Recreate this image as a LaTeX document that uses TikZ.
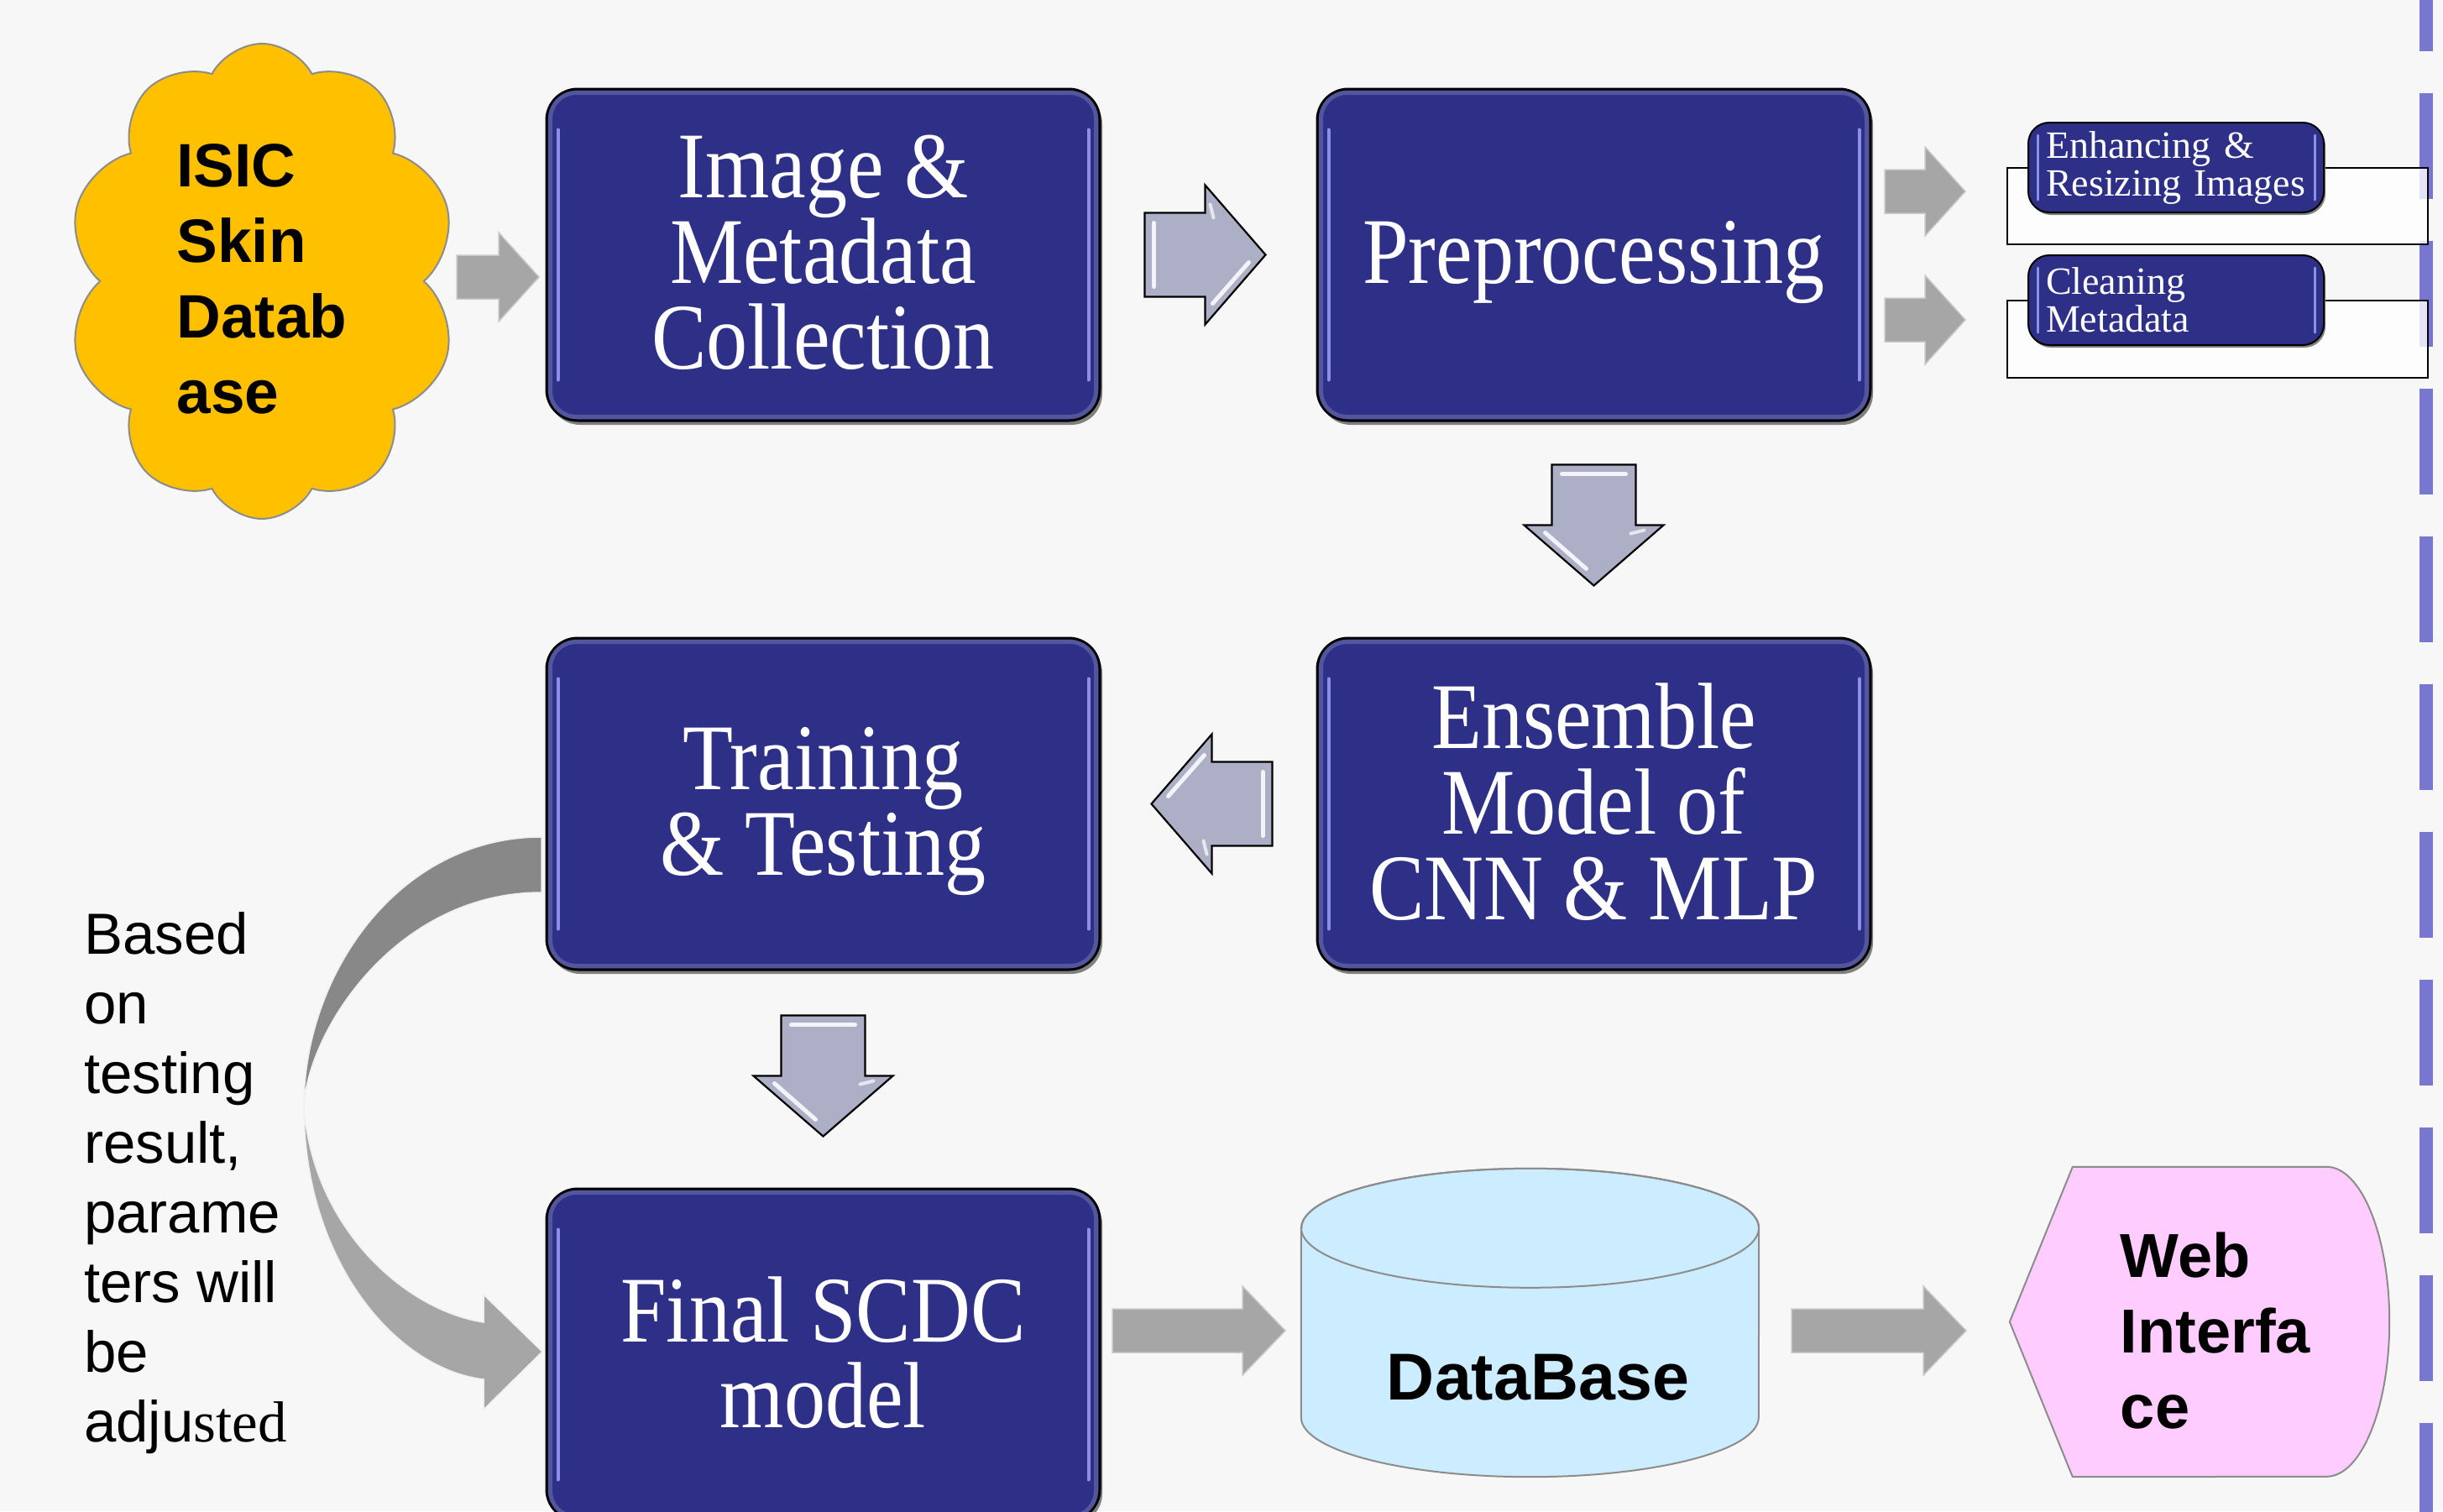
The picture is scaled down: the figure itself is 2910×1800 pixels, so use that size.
\documentclass[tikz,border=0pt]{standalone}
\usepackage{fontspec}
\setmainfont{Liberation Serif}
\setsansfont{Liberation Sans}
\newfontfamily\stepfont[FakeStretch=0.876]{Liberation Serif}
\usetikzlibrary{calc,shapes.symbols}

\definecolor{pagebg}{HTML}{F7F7F7}
\definecolor{stepblue}{HTML}{2E3088}
\definecolor{stepglow}{HTML}{8B8FE6}
\definecolor{chevfill}{HTML}{ADAFC6}
\definecolor{flatgray}{HTML}{A6A6A6}
\definecolor{flatedge}{HTML}{C8C8C8}
\definecolor{loopdark}{HTML}{888888}
\definecolor{cloudfill}{HTML}{FFC000}
\definecolor{dbfill}{HTML}{CCECFF}
\definecolor{webfill}{HTML}{FFCCFF}
\definecolor{shapeedge}{HTML}{8C8C8C}
\definecolor{dashblue}{HTML}{7777D0}

\tikzset{
  stepbox/.style={draw=black, line width=3pt, fill=stepblue, rounded corners=37pt,
    minimum width=659pt, minimum height=395pt, inner sep=0pt, text=white,
    align=center, text depth=6pt,
    font=\stepfont\fontsize{112pt}{102pt}\selectfont,
    preaction={fill=black!50, transform canvas={shift={(3pt,-5pt)}}}},
  minibox/.style={draw=black, line width=2pt, fill=stepblue, rounded corners=25pt,
    minimum width=352pt, minimum height=107pt, text width=310pt,
    inner xsep=21pt, inner ysep=0pt, align=left, text=white,
    font=\rmfamily\fontsize{46pt}{45pt}\selectfont,
    preaction={fill=black!50, transform canvas={shift={(2pt,-3pt)}}}},
  flatarrow/.style={fill=flatgray, draw=flatedge, line width=1.5pt},
  panel/.style={fill=white, fill opacity=0.8, draw=black, line width=2pt},
  chevron/.pic={
    \filldraw[fill=chevfill, draw=black, line width=2.2pt, line join=miter]
      (-72,-50) -- (0,-50) -- (0,-83) -- (72,0) -- (0,83) -- (0,50) -- (-72,50) -- cycle;
    \draw[white, line width=5pt, line cap=round, opacity=.85] (-61,-38) -- (-61,38);
    \draw[white, line width=5pt, line cap=round, opacity=.85] (9,58) -- (52,9);
    \draw[white, line width=4pt, line cap=round, opacity=.7] (6,-60) -- (10,-44);
  }
}

% horizontal flat arrow: tail, tip, head length
\newcommand\flatarrow[3]{%
  \filldraw[flatarrow] ($#1+(0,-26)$) -- ($#2+(-#3,-26)$) -- ($#2+(-#3,-53)$) -- #2
    -- ($#2+(-#3,53)$) -- ($#2+(-#3,26)$) -- ($#1+(0,26)$) -- cycle;}

\begin{document}
\begin{tikzpicture}[x=1pt, y=-1pt]
\useasboundingbox (0,0) rectangle (2910,1800);
\fill[pagebg] (0,0) rectangle (2910,1800);

% dashed guide along the right margin
\draw[dashblue, line width=16pt, dash pattern=on 126pt off 50pt] (2890,-65) -- (2890,1900);

% data source cloud
\node[cloud, cloud puffs=10, cloud puff arc=125, cloud ignores aspect,
      minimum width=464pt, minimum height=566pt, draw=shapeedge, line width=2pt,
      fill=cloudfill] (cloud) at (312,335) {};
\node[inner sep=0pt, align=left, font=\sffamily\bfseries\fontsize{73pt}{90pt}\selectfont]
  (cloudtext) at (312,332) {ISIC\\Skin\\Datab\\ase};

% main pipeline steps
\node[stepbox] (collect) at (980.5,303.5) {Image \&\\Metadata\\Collection};
\node[stepbox] (prep) at (1898.5,303.5) {Preprocessing};
\node[stepbox] (ensemble) at (1898.5,957.5) {Ensemble\\Model of\\CNN \& MLP};
\node[stepbox] (train) at (980.5,957.5) {Training\\\& Testing};
\node[stepbox] (final) at (980.5,1613.5) {Final SCDC\\model};

\foreach \b in {collect,prep,ensemble,train,final}{
  \draw[stepblue!70!white, line width=5pt, rounded corners=31pt, opacity=.6]
    ($(\b.north west)+(6,6)$) rectangle ($(\b.south east)+(-6,-6)$);
  \draw[stepglow, line width=4pt, line cap=round]
    ($(\b.north west)+(15,50)$) -- ($(\b.south west)+(15,-50)$);
  \draw[stepglow, line width=4pt, line cap=round]
    ($(\b.north east)+(-15,50)$) -- ($(\b.south east)+(-15,-50)$);
}

% preprocessing sub-steps
\draw[panel] (2391,199.5) rectangle (2892,290.5);
\draw[panel] (2391,357.5) rectangle (2892,449.5);
\node[minibox] (enhance) at (2592,199.5) {Enhancing \&\\Resizing Images};
\node[minibox] (clean) at (2592,357.5) {Cleaning\\Metadata};
\foreach \b in {enhance,clean}{
  \draw[stepglow, line width=3pt, line cap=round]
    ($(\b.north west)+(12,16)$) -- ($(\b.south west)+(12,-16)$);
  \draw[stepglow, line width=3pt, line cap=round]
    ($(\b.north east)+(-12,16)$) -- ($(\b.south east)+(-12,-16)$);
}

% block arrows between the steps
\pic at ($(collect.east)!0.5!(prep.west)+(-4,0)$) {chevron};
\pic[rotate=-90] at ($(prep.south)!0.5!(ensemble.north)+(0,-5)$) {chevron};
\pic[rotate=180] at ($(ensemble.west)!0.5!(train.east)+(4,0)$) {chevron};
\pic[rotate=-90] at ($(train.south)!0.5!(final.north)+(0,-4)$) {chevron};

% flat arrows
\coordinate (cloudout) at (544,330);
\coordinate (collectin) at (642,330);
\flatarrow{(cloudout)}{(collectin)}{48}
\coordinate (prepout1) at (2245,228);
\coordinate (enhancein) at (2341,228);
\flatarrow{(prepout1)}{(enhancein)}{48}
\coordinate (prepout2) at (2245,381);
\coordinate (cleanin) at (2341,381);
\flatarrow{(prepout2)}{(cleanin)}{48}
\coordinate (finalout) at (1325,1585);
\coordinate (dbin) at (1531,1585);
\flatarrow{(finalout)}{(dbin)}{51}
\coordinate (dbout) at (2134,1585);
\coordinate (webin) at (2342,1585);
\flatarrow{(dbout)}{(webin)}{51}

% database cylinder
\node[minimum width=545pt, minimum height=367pt, inner sep=0pt] (db) at (1822.5,1575.5) {};
\filldraw[fill=dbfill, draw=shapeedge, line width=2pt]
  ($(db.north west)+(0,71)$) -- ($(db.south west)+(0,-71)$)
  arc[start angle=180, end angle=0, x radius=272.5, y radius=71]
  -- ($(db.north east)+(0,71)$)
  arc[start angle=0, end angle=-180, x radius=272.5, y radius=71] -- cycle;
\draw[shapeedge, line width=2pt] ($(db.north)+(0,71)$) ellipse [x radius=272.5, y radius=71];
\node[inner sep=0pt, font=\sffamily\bfseries\fontsize{79pt}{90pt}\selectfont]
  (dbtext) at (1832,1641) {DataBase};

% web interface display shape
\node[minimum width=452pt, minimum height=369pt, inner sep=0pt] (web) at (2620,1574.5) {};
\filldraw[fill=webfill, draw=shapeedge, line width=2pt]
  (web.west) -- ($(web.north west)+(75,0)$) -- ($(web.north east)+(-75,0)$)
  arc[start angle=-90, end angle=90, x radius=75, y radius=184.5]
  -- ($(web.south west)+(75,0)$) -- cycle;
\node[inner sep=0pt, align=left, font=\sffamily\bfseries\fontsize{74pt}{90pt}\selectfont]
  (webtext) at (2639,1585) {Web\\Interfa\\ce};

% feedback loop from testing back to the final model
\filldraw[fill=loopdark, draw=white!88!gray, line width=1.5pt]
  (645,997) .. controls (475,997) and (362,1160) .. (362,1318)
  .. controls (366,1230) and (470,1063) .. (645,1063) -- cycle;
\filldraw[fill=flatgray, draw=white!88!gray, line width=1.5pt]
  (362,1318) .. controls (362,1500) and (470,1630) .. (576,1643)
  -- (576,1679) -- (646,1610) -- (576,1542) -- (576,1575)
  .. controls (480,1560) and (372,1460) .. (362,1318) -- cycle;

% note on parameter tuning
\node[anchor=north west, inner sep=0pt, align=left,
      font=\sffamily\fontsize{69pt}{83pt}\selectfont] (note) at (100,1086)
  {Based\\on\\testing\\result,\\parame\\ters will\\be\\adju{\rmfamily sted}};
\end{tikzpicture}
\end{document}
